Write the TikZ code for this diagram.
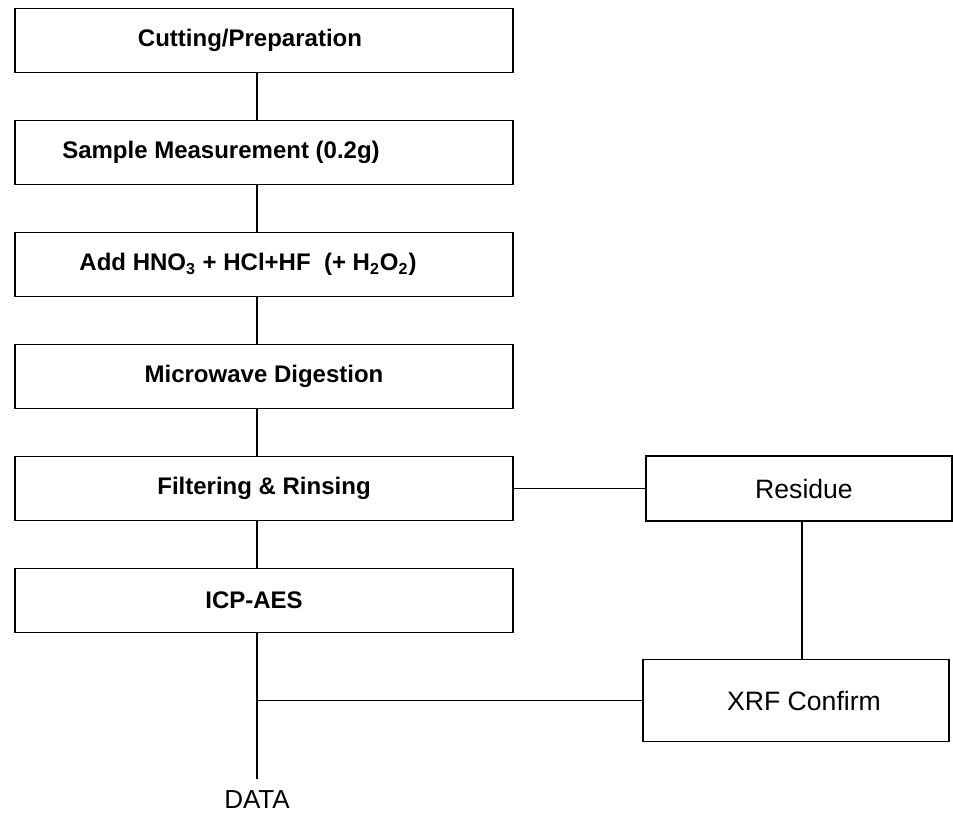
\documentclass[tikz,border=0pt]{standalone}
\usepackage{fontspec}
\setmainfont{Liberation Sans}
\usepackage{tikz}
\usetikzlibrary{positioning}
\tikzset{step box/.style = {draw, line width=0.8pt, minimum width=249pt, minimum height=32pt, font=\fontsize{12}{14}\selectfont\bfseries},
         side box/.style = {draw, line width=0.8pt, minimum width=153pt, minimum height=32.5pt, font=\fontsize{13.3}{15}\selectfont},
         nudge left/.style = {execute at end node={\hspace*{#1}}},
         nudge right/.style = {execute at begin node={\hspace*{#1}}},
         link/.style = {line width=0.9pt}}

\begin{document}
\begin{tikzpicture}[x=0.5pt, y=-0.5pt, node distance=56pt]
    \useasboundingbox (0,0) rectangle (953,814);
    \node[step box, nudge left=14pt] (cut) at (264,40.5) {Cutting/Preparation};
    \node[step box, nudge left=43pt, below of=cut] (meas) {Sample Measurement (0.2g)};
    \node[step box, nudge left=16pt, below of=meas] (acid) {Add HNO\textsubscript{3} + HCl+HF \ (+ H\textsubscript{2}O\textsubscript{2})};
    \node[step box, below of=acid] (micro) {Microwave Digestion};
    \node[step box, below of=micro] (filt) {Filtering \& Rinsing};
    \node[step box, nudge left=10pt, below of=filt] (icp) {ICP-AES};
    \node[side box, nudge right=5pt, right of=filt, node distance=267.5pt] (res) {Residue};
    \node[side box, nudge right=8pt, minimum height=41pt, below of=res, node distance=106pt, xshift=-1.5pt] (xrf) {XRF Confirm};
    \node[below of=icp, node distance=99.75pt, xshift=-3.5pt, font=\fontsize{13}{15}\selectfont, inner sep=2pt] (data) {DATA};
    \foreach \a/\b in {cut/meas, meas/acid, acid/micro, micro/filt, filt/icp}
        \draw[link] ([xshift=-3.5pt]\a.south) -- ([xshift=-3.5pt]\b.north);
    \path ([xshift=-3.5pt]icp.south) coordinate (icpbot);
    \coordinate (join) at (icpbot |- xrf.west);
    \draw[link] (icpbot) -- ([yshift=4pt]data.north);
    \draw[link] (join) -- (xrf.west);
    \draw[link] (filt.east) -- (res.west);
    \draw[link] ([xshift=1.5pt]res.south) -- ([xshift=1.5pt]res.south |- xrf.north);
\end{tikzpicture}
\end{document}
